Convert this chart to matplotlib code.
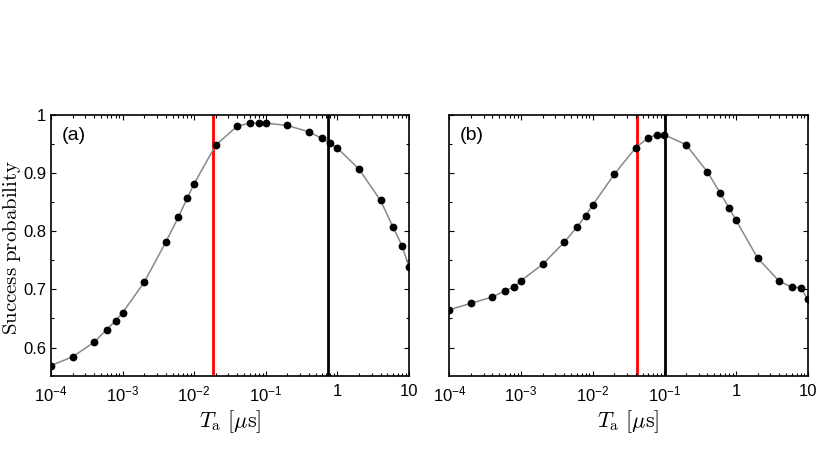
import matplotlib
matplotlib.use("Agg")
import matplotlib.pyplot as plt
from matplotlib.ticker import LogLocator, MultipleLocator, FixedLocator, NullFormatter

plt.rcParams['font.family'] = ['Liberation Sans', 'DejaVu Sans']
plt.rcParams['mathtext.fontset'] = 'cm'

T = [1e-4, 2e-4, 4e-4, 6e-4, 8e-4, 1e-3, 2e-3, 4e-3, 6e-3, 8e-3, 1e-2, 2e-2, 4e-2,
     6e-2, 8e-2, 1e-1, 2e-1, 4e-1, 6e-1, 8e-1, 1, 2, 4, 6, 8, 10]
p_a = [0.569, 0.584, 0.609, 0.631, 0.646, 0.660, 0.712, 0.781, 0.824, 0.857, 0.882,
       0.948, 0.981, 0.986, 0.986, 0.986, 0.982, 0.971, 0.960, 0.951, 0.943, 0.907,
       0.853, 0.807, 0.775, 0.738]
p_b = [0.665, 0.676, 0.687, 0.698, 0.704, 0.715, 0.743, 0.781, 0.807, 0.827, 0.845,
       0.898, 0.944, 0.961, 0.966, 0.966, 0.949, 0.902, 0.866, 0.840, 0.819, 0.754,
       0.714, 0.704, 0.703, 0.683]
red_a, black_a = 0.0185, 0.75
red_b, black_b = 0.041, 0.102
panel_labels = ['(a)', '(b)']
xtick_vals = [1e-4, 1e-3, 1e-2, 1e-1, 1, 10]
xtick_labels = [r'$\mathregular{10^{-4}}$', r'$\mathregular{10^{-3}}$', r'$\mathregular{10^{-2}}$',
                r'$\mathregular{10^{-1}}$', '1', '10']
ytick_vals = [0.6, 0.7, 0.8, 0.9, 1.0]
ytick_labels = ['0.6', '0.7', '0.8', '0.9', '1']

fig = plt.figure(figsize=(8.18, 4.75), dpi=100)
ax1 = fig.add_axes([0.0623, 0.2084, 0.4377, 0.5495])
ax2 = fig.add_axes([0.5493, 0.2084, 0.4381, 0.5495])

for ax, p, r, b, lab in [(ax1, p_a, red_a, black_a, panel_labels[0]),
                          (ax2, p_b, red_b, black_b, panel_labels[1])]:
    ax.plot(T, p, color='#888888', lw=1.1, zorder=2)
    ax.plot(T, p, 'o', color='black', ms=4.6, zorder=3)
    ax.axvline(r, color='#ff0000', lw=2, zorder=1)
    ax.axvline(b, color='black', lw=2, zorder=1)
    ax.set_xscale('log')
    ax.set_xlim(1e-4, 10)
    ax.set_ylim(0.551, 1.0)
    ax.xaxis.set_major_locator(FixedLocator(xtick_vals))
    ax.xaxis.set_minor_locator(LogLocator(base=10, subs=range(2, 10)))
    ax.xaxis.set_minor_formatter(NullFormatter())
    ax.set_xticks(xtick_vals)
    ax.set_xticklabels(xtick_labels, fontsize=12)
    ax.yaxis.set_minor_locator(MultipleLocator(0.05))
    ax.set_yticks(ytick_vals)
    ax.tick_params(which='both', direction='in', top=True, right=True, length=3.5, width=0.8)
    ax.tick_params(which='minor', length=2.5)
    ax.tick_params(axis='x', which='major', pad=6)
    for s in ax.spines.values():
        s.set_linewidth(1.2)
    ax.text(0.03, 0.92, lab, transform=ax.transAxes, fontsize=14, va='center', ha='left')
    ax.set_xlabel(r'$T_\mathrm{a}\ [\mu\mathrm{s}]$', fontsize=16, labelpad=3)

ax1.set_yticklabels(ytick_labels, fontsize=12)
ax2.set_yticklabels([])
ax1.set_ylabel(r'$\mathrm{Success\ probability}$', fontsize=15)
ax1.yaxis.set_label_coords(-0.077, 0.494)

fig.savefig('out.png', dpi=100)
